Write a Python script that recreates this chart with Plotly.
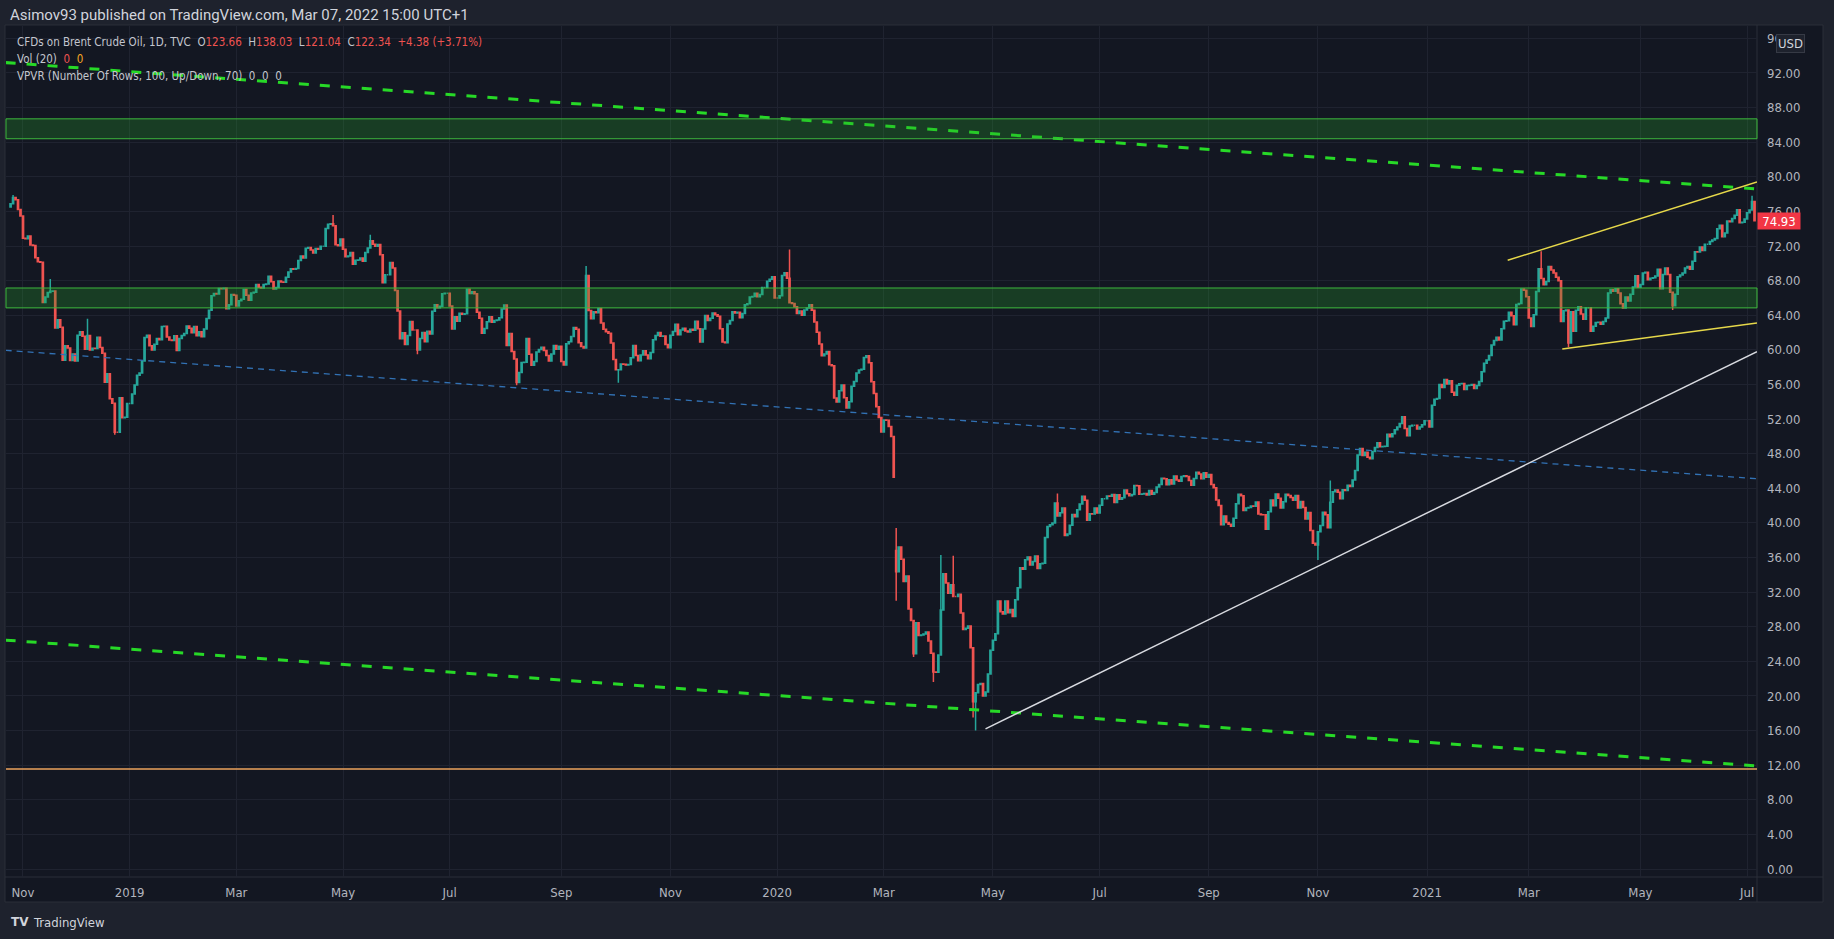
import pandas as pd
import plotly.graph_objects as go

# ---------------- data (daily closes) ----------------
close_2018 = [
    76.89, 77.62, 77.34, 76.22, 75.47,
    72.89, 72.83, 73.17, 72.13, 72.07, 70.65, 70.18, 70.12, 65.47, 66.12, 66.62, 66.76, 66.79, 62.53, 63.48, 62.60, 58.80, 60.48, 60.21, 58.76, 59.51, 58.71,
    61.69, 62.08, 61.56, 60.06, 61.67, 59.97, 60.20, 60.15, 61.45, 60.28, 59.61, 56.26, 57.24, 54.35, 53.82, 50.47, 50.47, 54.47, 52.16, 52.20, 53.80,
]
close_2019 = [
    53.80, 54.91, 55.95, 57.06, 57.33, 58.72, 61.44, 61.68, 60.48, 59.99, 60.64, 61.32, 61.18, 62.70, 62.74, 61.50, 61.14, 61.09, 61.64, 59.93, 61.32, 61.65, 61.89,
    62.75, 62.51, 61.98, 62.69, 61.63, 62.10, 61.51, 62.42, 63.61, 64.57, 66.25, 66.50, 66.45, 67.08, 67.07, 67.12, 64.76, 65.21, 66.39, 66.31,
    65.07, 65.67, 65.86, 66.99, 66.30, 65.74, 66.58, 66.67, 67.55, 67.23, 67.16, 67.54, 67.61, 68.50, 67.86, 67.03, 67.21, 67.97, 67.83, 67.82, 68.39,
    69.01, 69.37, 69.31, 69.40, 70.34, 70.85, 70.61, 71.73, 71.83, 71.55, 71.18, 71.72, 71.62, 71.97, 71.97, 74.04, 74.51, 74.57, 74.35, 72.15, 72.04, 72.80,
    71.62, 70.75, 70.85, 71.24, 69.88, 70.37, 70.39, 70.62, 70.23, 71.24, 71.77, 72.62, 72.21, 71.97, 72.18, 70.99, 67.76, 68.69, 68.69, 70.11, 69.45, 66.87, 64.49,
    61.28, 61.97, 60.63, 61.67, 63.29, 62.29, 62.29, 59.97, 61.31, 62.01, 60.94, 62.14, 61.82, 64.45, 65.20, 64.86, 65.05, 66.49, 66.55, 66.55,
    65.06, 62.40, 63.82, 63.30, 64.23, 64.11, 64.16, 67.01, 66.52, 66.72, 66.48, 64.35, 63.66, 61.93, 62.47, 63.26, 63.83, 63.18, 63.39, 63.46, 63.71, 64.72, 65.17,
    60.50, 61.89, 59.81, 58.94, 56.23, 57.38, 58.53, 58.57, 61.30, 59.48, 58.23, 58.64, 59.74, 60.03, 60.30, 59.92, 59.34, 58.70, 59.51, 60.49, 60.08, 60.43,
    58.66, 58.26, 60.70, 60.95, 61.54, 62.59, 62.38, 60.81, 60.38, 60.22, 68.60, 64.55, 63.60, 64.40, 64.28, 64.77, 63.10, 62.39, 62.08, 61.91, 60.78,
    58.89, 57.69, 57.71, 58.37, 58.35, 58.24, 58.32, 59.10, 60.51, 59.35, 58.74, 59.42, 59.91, 59.42, 58.96, 59.70, 61.17, 61.67, 62.02, 61.57, 61.59, 60.61, 60.23,
    61.69, 62.13, 62.96, 61.74, 62.29, 62.51, 62.18, 62.06, 62.37, 62.28, 63.30, 62.44, 60.91, 62.40, 63.97, 63.39, 63.65, 64.27, 64.06, 63.87, 62.43,
    60.92, 60.82, 63.00, 63.39, 64.39, 64.25, 64.34, 63.72, 64.20, 65.22, 65.34, 66.10, 66.17, 66.54, 66.14, 66.39, 67.20, 67.20, 67.92, 68.16, 68.44, 66.00,
]
close_2020 = [
    66.00, 66.25, 68.60, 68.91, 68.27, 65.44, 65.37, 64.98, 64.20, 64.49, 64.00, 64.62, 64.85, 65.20, 64.59, 63.21, 62.04, 60.69, 59.32, 59.51, 59.81, 58.29, 58.16,
    54.45, 53.96, 55.28, 55.93, 54.47, 53.27, 54.01, 55.79, 56.34, 57.32, 57.67, 57.75, 59.12, 59.31, 58.50, 56.30, 54.95, 53.43, 52.18, 50.52,
    51.90, 51.86, 51.13, 49.99, 45.27, 34.36, 37.22, 35.79, 33.22, 33.85, 30.05, 28.73, 24.88, 28.47, 26.98, 27.03, 27.15, 27.39, 26.34, 24.93, 22.76, 22.74,
    24.74, 29.94, 34.11, 33.05, 31.87, 32.84, 31.48, 31.48, 31.74, 29.60, 27.69, 27.82, 28.08, 25.57, 19.33, 20.37, 21.33, 21.44, 19.99, 20.46, 22.54, 25.27,
    26.44, 27.20, 30.97, 29.72, 29.46, 30.97, 29.63, 29.98, 29.19, 31.13, 32.50, 34.81, 34.65, 35.75, 36.06, 35.13, 35.53, 36.17, 34.74, 35.29, 35.33,
    38.32, 39.57, 39.79, 39.99, 42.30, 40.80, 41.18, 41.73, 38.55, 38.73, 39.72, 40.96, 40.71, 41.51, 42.19, 43.08, 42.63, 40.31, 41.05, 41.02, 41.71, 41.15,
    42.03, 42.80, 42.80, 43.10, 43.08, 43.29, 42.35, 43.24, 42.72, 42.90, 43.79, 43.37, 43.14, 43.28, 44.32, 44.29, 43.31, 43.34, 43.41, 43.22, 43.75, 43.30, 43.52,
    44.15, 44.43, 45.17, 45.09, 44.40, 44.99, 44.50, 45.43, 44.96, 44.80, 45.37, 45.46, 45.37, 44.90, 44.35, 45.13, 45.86, 45.64, 45.09, 45.81, 45.28,
    45.58, 44.43, 44.07, 42.66, 42.01, 39.78, 40.79, 40.06, 39.83, 39.61, 40.53, 42.22, 43.30, 43.15, 41.44, 41.72, 41.77, 41.94, 41.92, 42.43, 41.03, 40.95,
    40.93, 39.27, 41.29, 42.65, 41.99, 43.34, 42.85, 41.72, 42.45, 43.32, 43.16, 42.93, 42.62, 43.16, 41.73, 42.46, 41.77, 40.46, 41.20, 39.12, 37.65, 37.46,
    38.97, 39.71, 41.23, 40.93, 39.45, 42.40, 43.61, 43.80, 43.53, 42.78, 43.82, 43.75, 44.34, 44.20, 44.96, 46.06, 47.86, 48.61, 47.80, 48.18, 47.59,
    47.42, 48.25, 48.71, 49.25, 48.79, 48.84, 48.86, 50.25, 49.97, 50.29, 50.76, 51.08, 51.50, 52.26, 50.91, 50.08, 51.20, 51.29, 51.29, 50.86, 51.09, 51.34, 51.80,
]
close_2021 = [
    51.80, 51.09, 53.60, 54.30, 54.38, 55.99, 55.66, 56.58, 56.06, 56.42, 55.10, 54.75, 55.90, 56.08, 56.10, 55.41, 55.88, 55.91, 56.00, 55.53, 55.88,
    56.35, 57.46, 58.46, 58.84, 59.34, 60.56, 61.09, 61.47, 61.14, 62.43, 63.30, 63.35, 64.34, 63.93, 62.91, 65.24, 65.37, 67.04, 66.88, 66.13,
    63.69, 62.70, 64.07, 66.74, 69.36, 68.24, 67.52, 67.90, 69.63, 69.22, 68.88, 68.39, 68.00, 63.28, 64.53, 64.62, 60.79, 64.41, 62.15, 64.57, 64.98, 64.14, 63.54,
    64.86, 64.86, 62.15, 62.74, 63.16, 63.20, 62.95, 63.28, 63.67, 66.58, 66.94, 66.77, 67.05, 66.57, 65.32, 64.85, 66.11, 65.65, 66.42, 67.27, 68.56, 67.25,
    67.56, 68.88, 68.96, 68.09, 68.28, 68.32, 68.55, 69.32, 67.05, 68.71, 69.46, 68.71, 66.66, 65.11, 66.44, 68.46, 68.65, 68.87, 69.46, 69.63, 69.32,
    70.25, 71.35, 71.31, 71.89, 71.49, 72.22, 72.22, 72.52, 72.69, 72.86, 73.99, 74.39, 73.08, 73.51, 74.90, 74.81, 75.19, 75.56, 76.18, 74.68, 74.76, 75.13,
    75.84, 76.17, 77.16, 74.93,
]
first_open = 76.50
first_date = "2018-10-25"

# wick extremes and the gap open that differ from the body
high_spike_dates = ["2018-10-26", "2018-11-16", "2018-12-07", "2019-04-25", "2019-05-16", "2019-09-16",
                    "2020-01-08", "2020-03-09", "2020-04-02", "2020-04-09", "2020-06-08", "2020-11-09",
                    "2021-03-08", "2021-07-05"]
high_spike_values = [77.9, 68.2, 63.6, 75.6, 73.3, 69.7, 71.6, 39.4, 36.3, 36.2, 43.4, 44.9, 71.4, 77.8]
low_spike_dates = ["2018-12-24", "2019-06-12", "2019-08-07", "2019-10-03", "2020-03-09", "2020-03-18",
                   "2020-03-30", "2020-04-21", "2020-04-22", "2020-11-02", "2021-03-23", "2021-05-20"]
low_spike_values = [50.2, 59.5, 55.9, 56.2, 31.0, 24.5, 21.6, 17.5, 16.0, 35.7, 60.3, 64.6]
gap_open_dates = ["2020-03-09"]
gap_open_values = [36.8]

# drawings (date, price anchors)
upper_green_dates = ["2018-10-23 12:00", "2021-07-07 12:00"]
upper_green_prices = [93.2, 78.6]
lower_green_dates = ["2018-10-23 12:00", "2021-07-07 12:00"]
lower_green_prices = [26.45, 11.9]
blue_dates = ["2018-10-23 12:00", "2021-07-07 12:00"]
blue_prices = [59.95, 45.1]
white_dates = ["2020-04-28 12:00", "2021-07-07 12:00"]
white_prices = [16.2, 59.8]
yellow_up_dates = ["2021-02-17 00:00", "2021-07-07 12:00"]
yellow_up_prices = [70.35, 79.4]
yellow_lo_dates = ["2021-03-19 00:00", "2021-07-07 12:00"]
yellow_lo_prices = [60.1, 63.1]
support_level = 11.55
zone_upper = [84.4, 86.7]
zone_lower = [64.85, 67.15]
last_price = 74.93

tick_dates = ["2018-11-01", "2019-01-01", "2019-03-01", "2019-05-01", "2019-07-01", "2019-09-02",
              "2019-11-01", "2020-01-01", "2020-03-02", "2020-05-01", "2020-07-01", "2020-09-01",
              "2020-11-02", "2021-01-01", "2021-03-01", "2021-05-03", "2021-07-01"]
tick_text = ["Nov", "2019", "Mar", "May", "Jul", "Sep", "Nov", "2020", "Mar", "May", "Jul", "Sep",
             "Nov", "2021", "Mar", "May", "Jul"]
price_ticks = list(range(0, 97, 4))

# ---------------- build OHLC ----------------
closes = close_2018 + close_2019 + close_2020 + close_2021
days = pd.bdate_range(first_date, periods=len(closes))
df = pd.DataFrame({"close": closes}, index=days)
df["open"] = df["close"].shift(1)
df.iloc[0, df.columns.get_loc("open")] = first_open
for d, v in zip(gap_open_dates, gap_open_values):
    df.loc[pd.Timestamp(d), "open"] = v
df["high"] = df[["open", "close"]].max(axis=1)
df["low"] = df[["open", "close"]].min(axis=1)
for d, v in zip(high_spike_dates, high_spike_values):
    t = pd.Timestamp(d)
    df.loc[t, "high"] = max(df.loc[t, "high"], v)
for d, v in zip(low_spike_dates, low_spike_values):
    t = pd.Timestamp(d)
    df.loc[t, "low"] = min(df.loc[t, "low"], v)
xdates = df.index + pd.Timedelta(hours=12)

# ---------------- styling ----------------
W, H = 1834, 939
ML, MR, MT, MB = 6, 77, 26, 62
PW, PH = W - ML - MR, H - MT - MB
BG = "#131722"
FRAME = "#1e222d"
GRID = "#1f2330"
TXT = "#b2b5be"
UP, DOWN = "#26a69a", "#ef5350"
FONT = "Liberation Sans Narrow, DejaVu Sans Condensed, Roboto, sans-serif"
HFONT = "Roboto, Liberation Sans, sans-serif"


def px_x(px):
    return (px - ML) / PW


def px_y(py):
    return (H - MB - py) / PH


fig = go.Figure()
fig.add_trace(go.Candlestick(
    x=xdates, open=df["open"], high=df["high"], low=df["low"], close=df["close"],
    increasing=dict(line=dict(color=UP, width=1.5), fillcolor=UP),
    decreasing=dict(line=dict(color=DOWN, width=1.5), fillcolor=DOWN),
    whiskerwidth=0, showlegend=False, hoverinfo="skip"))


def add_line(xs, ys, color, width, dash="solid"):
    fig.add_trace(go.Scatter(x=pd.to_datetime(xs), y=ys, mode="lines",
                             line=dict(color=color, width=width, dash=dash),
                             showlegend=False, hoverinfo="skip"))


add_line(blue_dates, blue_prices, "#3272b5", 1.3, "6px,5px")
add_line(upper_green_dates, upper_green_prices, "#27d927", 3, "10px,11px")
add_line(lower_green_dates, lower_green_prices, "#27d927", 3, "10px,11px")
add_line(white_dates, white_prices, "#d8dae0", 1.5)
add_line(yellow_up_dates, yellow_up_prices, "#e6d84a", 1.5)
add_line(yellow_lo_dates, yellow_lo_prices, "#e6d84a", 1.5)

shapes = [
    # chart panel
    dict(type="rect", xref="paper", yref="paper", x0=px_x(5), x1=px_x(1823), y0=px_y(902), y1=px_y(25),
         fillcolor=BG, line=dict(color="#2a2e39", width=1), layer="below"),
    dict(type="line", xref="paper", yref="paper", x0=1, x1=1, y0=px_y(902), y1=px_y(25),
         line=dict(color="#2a2e39", width=1), layer="below"),
    dict(type="line", xref="paper", yref="paper", x0=px_x(5), x1=px_x(1823), y0=0, y1=0,
         line=dict(color="#2a2e39", width=1), layer="below"),
]
for lo, hi in (zone_upper, zone_lower):
    shapes.append(dict(type="rect", xref="paper", yref="y", x0=0, x1=1, y0=lo, y1=hi,
                       fillcolor="rgba(40,165,45,0.27)", line=dict(color="#3db83d", width=1), layer="above"))
shapes.append(dict(type="line", xref="paper", yref="y", x0=0, x1=1, y0=support_level, y1=support_level,
                   line=dict(color="#eda35c", width=1.5), layer="above"))

annotations = [
    dict(text="Asimov93 published on TradingView.com, Mar 07, 2022 15:00 UTC+1", xref="paper", yref="paper",
         x=px_x(8), y=px_y(15), xanchor="left", yanchor="middle", showarrow=False,
         font=dict(family=HFONT, size=15, color="#d1d4dc")),
    dict(text=("CFDs on Brent Crude Oil, 1D, TVC  O<span style='color:#ef5350'>123.66</span>"
               "  H<span style='color:#ef5350'>138.03</span>  L<span style='color:#ef5350'>121.04</span>"
               "  C<span style='color:#ef5350'>122.34</span>  <span style='color:#ef5350'>+4.38 (+3.71%)</span>"),
         xref="paper", yref="paper", x=px_x(15), y=px_y(41.5), xanchor="left", yanchor="middle",
         showarrow=False, font=dict(family=FONT, size=11.5, color="#c3c6ce")),
    dict(text="Vol (20)  <span style='color:#ef5350'>0</span>  <span style='color:#f5a623'>0</span>",
         xref="paper", yref="paper", x=px_x(15), y=px_y(59), xanchor="left", yanchor="middle",
         showarrow=False, font=dict(family=FONT, size=11.5, color="#c3c6ce")),
    dict(text="VPVR (Number Of Rows, 100, Up/Down, 70)  0  0  0",
         xref="paper", yref="paper", x=px_x(15), y=px_y(76.5), xanchor="left", yanchor="middle",
         showarrow=False, font=dict(family=FONT, size=11.5, color="#c3c6ce")),
    dict(text="74.93", xref="paper", yref="y", x=1, y=last_price, xanchor="left", yanchor="middle",
         showarrow=False, bgcolor="#f23645", width=42, height=16, borderpad=0,
         font=dict(family=FONT, size=13, color="#ffffff")),
    dict(text="USD", xref="paper", yref="paper", x=px_x(1790), y=px_y(43), xanchor="center", yanchor="middle",
         showarrow=False, bgcolor=FRAME, bordercolor="#363a45", borderwidth=1, borderpad=1,
         font=dict(family=FONT, size=13, color="#d1d4dc")),
    dict(text="<b>TV</b>", xref="paper", yref="paper", x=px_x(9), y=px_y(922), xanchor="left", yanchor="middle",
         showarrow=False, font=dict(family="DejaVu Sans, sans-serif", size=12, color="#d1d4dc")),
    dict(text="TradingView", xref="paper", yref="paper", x=px_x(31), y=px_y(922), xanchor="left", yanchor="middle",
         showarrow=False, font=dict(family=FONT, size=13, color="#d1d4dc")),
]

fig.update_layout(
    width=W, height=H, autosize=False,
    margin=dict(l=ML, r=MR, t=MT, b=MB, pad=0),
    paper_bgcolor=FRAME, plot_bgcolor="rgba(0,0,0,0)",
    shapes=shapes, annotations=annotations, showlegend=False,
    xaxis=dict(type="date", rangebreaks=[dict(bounds=["sat", "mon"])],
               range=["2018-10-23 15:36", "2021-07-07 12:00"],
               tickvals=pd.to_datetime(tick_dates) + pd.Timedelta(hours=12), ticktext=tick_text,
               showgrid=True, gridcolor=GRID, gridwidth=1, zeroline=False, showline=False,
               ticks="", ticklabelstandoff=6, rangeslider=dict(visible=False),
               tickfont=dict(family=FONT, size=13, color=TXT), fixedrange=True),
    yaxis=dict(side="right", range=[-0.925, 97.43], tickvals=price_ticks,
               ticktext=[f"{v:.2f}" for v in price_ticks],
               showgrid=True, gridcolor=GRID, gridwidth=1, zeroline=False, showline=False,
               ticks="", ticklabelstandoff=9,
               tickfont=dict(family=FONT, size=13, color=TXT), fixedrange=True),
)

fig.write_html("out.html", config={"displayModeBar": False},
               post_script="document.body.style.margin='0';document.body.style.overflow='hidden';")
